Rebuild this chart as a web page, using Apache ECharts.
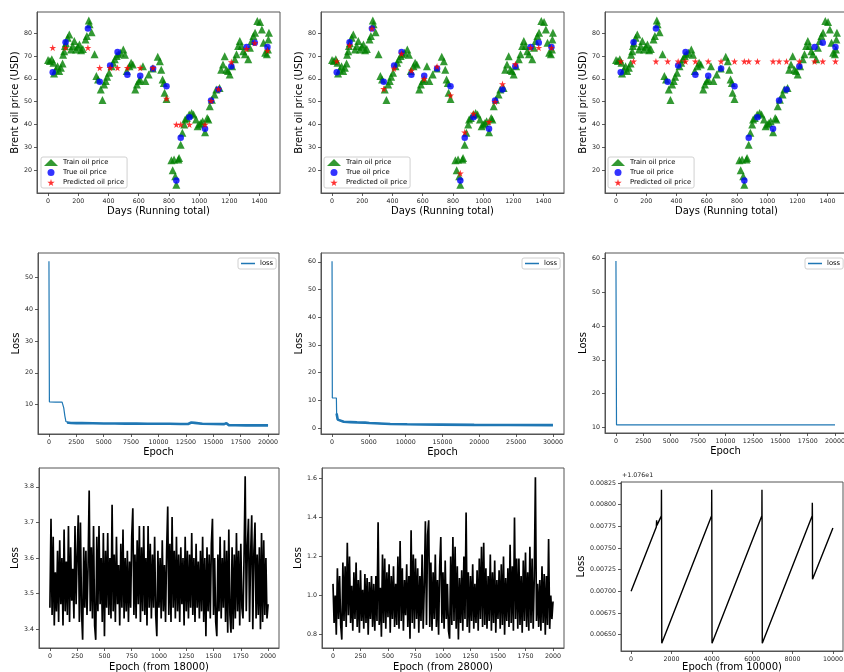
<!DOCTYPE html>
<html><head><meta charset="utf-8">
<script src="https://cdn.jsdelivr.net/npm/echarts@6/dist/echarts.min.js"></script>
<style>html,body{margin:0;padding:0;background:#fff}#c{width:844px;height:672px}</style>
</head><body><div id="c"></div>
<script>
// ---------- data ----------
const trainDays = [0,12,25,36,40,51,63,74,85,96,100,107,112,118,130,141,152,163,174,185,197,208,219,230,248,257,270,275,288,308,320,331,349,360,371,382,391,404,420,431,442,454,465,480,498,509,521,539,550,561,577,588,601,610,628,644,666,693,726,740,749,758,766,771,784,816,825,834,842,849,863,867,878,889,901,907,918,934,950,963,979,990,1001,1012,1023,1039,1053,1061,1070,1084,1102,1113,1135,1146,1158,1169,1180,1191,1202,1218,1236,1247,1258,1269,1280,1292,1303,1325,1336,1347,1359,1370,1385,1403,1415,1426,1437,1448,1455,1458,1462];
const trainPrice = [68.2,67.8,68.6,67.0,62.3,64.0,65.5,63.4,64.8,66.7,70.5,72.0,74.3,75.5,78.0,79.4,72.8,74.3,76.5,72.8,74.0,75.0,72.5,73.0,77.2,78.7,85.5,83.8,80.4,70.7,61.2,59.7,55.3,50.7,57.5,59.0,60.9,62.6,65.5,67.0,68.5,70.0,70.7,71.4,72.8,70.5,63.4,65.5,67.0,66.3,55.3,57.5,59.0,59.7,65.5,59.0,61.9,64.5,69.6,67.7,64.0,59.7,58.2,53.9,51.2,24.4,20.0,24.7,17.4,13.7,24.7,25.4,31.2,36.4,40.0,42.2,42.9,44.4,45.1,44.4,42.2,39.3,40.0,40.7,41.5,36.6,42.9,42.2,48.0,50.9,53.1,55.3,56.0,64.0,66.3,69.9,64.0,63.4,61.9,65.5,68.5,70.7,74.3,76.5,74.3,72.1,70.7,68.5,73.6,76.5,78.7,80.1,85.3,84.8,81.6,75.8,71.4,70.7,72.8,77.2,80.1];
const testDays = [31,116,264,342,411,460,525,610,695,784,849,878,936,1039,1079,1128,1213,1314,1368,1452];
const truePrice = [62.9,76.0,82.0,58.7,65.8,71.7,61.8,61.3,64.5,56.8,15.6,34.2,43.2,38.2,50.5,55.3,65.5,73.9,75.8,73.9];
const predPriceA = [73.6,73.6,73.6,64.8,64.8,64.8,64.8,64.8,64.8,51.4,40.0,40.0,40.0,40.0,50.4,55.5,67.3,73.1,75.6,72.4];
const predPriceB = [67.7,74.6,82.0,55.6,64.5,71.0,63.6,60.0,65.4,52.8,18.7,36.6,44.8,41.2,50.0,57.7,66.4,73.6,73.6,73.6];
const predPriceC = [67.6,67.6,67.6,67.6,67.6,67.6,67.6,67.6,67.6,67.6,67.6,67.6,67.6,67.6,67.6,67.6,67.6,67.6,67.6,67.6];

const lossEpochA = [0,40,80,600,1200,1280,1350,1450,1550,1650,1800,2000,2500,3000,4000,5000,6000,7000,8000,9000,10000,11000,12000,12700,12800,13000,13300,13400,14000,15000,16000,16200,16300,16400,16500,17000,18000,19000,20000];
const lossA = [55,10.9,10.8,10.8,10.8,10.7,9.0,6.5,4.7,4.4,4.3,4.25,4.2,4.2,4.15,4.1,4.1,4.05,4.05,4.0,4.0,4.0,3.95,3.95,4.35,4.4,4.3,4.0,4.0,3.95,3.9,4.2,4.0,3.6,3.55,3.55,3.5,3.5,3.5];
const lossEpochB = [0,40,80,300,590,620,770,1040,1590,2500,3400,4500,5070,5200,7900,10200,14700,19300,23800,30000];
const lossB = [60.2,10.8,10.8,10.8,10.8,5.2,3.0,2.4,2.2,2.1,2.0,1.9,1.8,1.5,1.4,1.3,1.2,1.1,1.05,1.0];
const lossEpochC = [0,50,100,5000,10000,15000,20000];
const lossC = [59.2,10.76,10.76,10.76,10.76,10.76,10.76];

const lossTailA = [3.46,3.71,3.44,3.66,3.41,3.56,3.45,3.62,3.42,3.65,3.47,3.60,3.41,3.68,3.45,3.59,3.44,3.69,3.42,3.63,3.48,3.57,3.43,3.69,3.47,3.61,3.72,3.42,3.70,3.45,3.37,3.63,3.46,3.62,3.44,3.58,3.79,3.45,3.63,3.43,3.69,3.41,3.37,3.66,3.45,3.69,3.47,3.60,3.42,3.67,3.38,3.62,3.46,3.67,3.44,3.60,3.43,3.75,3.45,3.61,3.42,3.66,3.47,3.58,3.41,3.64,3.46,3.68,3.43,3.60,3.45,3.62,3.42,3.59,3.46,3.66,3.74,3.44,3.61,3.43,3.65,3.47,3.69,3.42,3.63,3.45,3.69,3.44,3.60,3.41,3.69,3.46,3.64,3.43,3.61,3.46,3.66,3.44,3.38,3.62,3.46,3.60,3.43,3.65,3.45,3.58,3.42,3.62,3.745,3.44,3.64,3.42,3.715,3.46,3.62,3.43,3.66,3.45,3.61,3.42,3.63,3.47,3.60,3.41,3.66,3.45,3.62,3.43,3.61,3.46,3.67,3.44,3.60,3.42,3.64,3.46,3.59,3.43,3.62,3.45,3.66,3.42,3.60,3.38,3.63,3.45,3.61,3.43,3.64,3.71,3.44,3.60,3.42,3.38,3.61,3.45,3.66,3.43,3.60,3.46,3.65,3.42,3.62,3.39,3.68,3.44,3.39,3.63,3.40,3.61,3.43,3.67,3.45,3.62,3.41,3.64,3.46,3.43,3.61,3.83,3.45,3.63,3.71,3.42,3.61,3.72,3.40,3.62,3.70,3.43,3.61,3.44,3.63,3.40,3.67,3.42,3.65,3.44,3.60,3.43,3.47];
const lossTailB = [1.06,0.86,1.00,0.80,1.14,0.88,1.10,0.85,0.775,1.17,0.87,1.15,0.84,1.27,0.90,1.20,0.86,1.05,0.82,1.12,0.88,1.17,0.84,1.08,0.81,1.13,0.87,1.03,0.83,1.11,0.86,1.09,0.80,1.07,0.88,1.10,0.84,1.06,0.82,1.10,0.87,1.375,0.85,1.04,0.79,1.21,0.86,1.19,0.83,1.12,0.89,1.16,0.81,1.10,0.88,1.15,0.84,1.06,0.85,1.20,0.83,1.28,0.87,1.14,0.82,1.08,0.90,1.16,0.84,1.10,0.78,1.335,0.86,1.21,0.83,1.19,0.88,1.14,0.81,1.10,0.87,1.21,0.83,1.05,1.38,0.85,1.31,1.385,0.84,1.17,0.82,1.12,0.88,1.21,0.84,1.08,0.80,1.15,1.30,0.86,1.12,0.83,1.18,0.88,1.06,0.82,0.78,1.20,0.85,1.30,0.87,1.25,0.83,1.15,0.775,1.09,0.86,1.13,0.82,1.20,0.88,1.425,0.84,1.12,0.81,1.10,0.87,1.16,0.83,1.06,0.86,1.13,0.82,1.19,0.88,1.25,0.84,1.27,0.85,1.14,0.83,1.10,0.87,1.21,0.82,1.12,0.86,1.18,0.81,1.08,0.88,1.13,0.83,1.16,0.85,1.20,0.80,1.09,0.87,1.14,0.84,1.26,0.86,1.15,0.82,1.40,0.88,1.19,0.83,1.19,0.85,1.10,0.81,1.18,0.87,1.22,0.84,1.12,0.82,1.25,0.86,1.19,0.83,1.10,1.605,0.87,1.06,0.84,1.08,0.82,1.15,0.86,1.11,0.80,1.10,0.85,1.29,0.83,1.00,0.88,0.97];
const tailStep = 10;
const lossEpochTailC = [0,1250,1265,1280,1500,1505,1510,1520,3990,3995,4000,4010,6480,6485,6490,6500,8975,8980,8985,8990,10000];
const lossTailC = [0.00700,0.00774,0.00782,0.00776,0.00787,0.00817,0.00787,0.00640,0.00787,0.00817,0.00787,0.00640,0.00787,0.00817,0.00787,0.00640,0.00787,0.00802,0.00787,0.00714,0.00773];
const tailOffsetText = '+1.076e1';

const dayTicks = [0,200,400,600,800,1000,1200,1400];
const priceTicks = [20,30,40,50,60,70,80];
const epochTicks20k = [0,2500,5000,7500,10000,12500,15000,17500,20000];
const epochTicks30k = [0,5000,10000,15000,20000,25000,30000];
const lossTicksA = [10,20,30,40,50];
const lossTicksB = [0,10,20,30,40,50,60];
const lossTicksC = [10,20,30,40,50,60];
const epochTicks2k = [0,250,500,750,1000,1250,1500,1750,2000];
const epochTicks10k = [0,2000,4000,6000,8000,10000];
const tailTicksA = [3.4,3.5,3.6,3.7,3.8];
const tailTicksB = [0.8,1.0,1.2,1.4,1.6];
const tailTicksC = [0.0065,0.00675,0.007,0.00725,0.0075,0.00775,0.008,0.00825];

// ---------- layout ----------
const F = 'DejaVu Sans';
const G = [
  {l:37,t:12,w:243,h:181},{l:321,t:12,w:243,h:181},{l:605,t:12,w:243,h:181},
  {l:38,t:253,w:241,h:181},{l:321,t:253,w:243,h:181},{l:605,t:253,w:241,h:180},
  {l:39,t:468,w:240,h:180},{l:322,t:468,w:242,h:180},{l:621,t:482,w:222,h:169}
];
const grids = G.map(g => ({left:g.l, top:g.t, width:g.w, height:g.h, show:true, borderColor:'#555', borderWidth:1, backgroundColor:'transparent', containLabel:false, outerBoundsMode:'none'}));

function ax(dim, gi, min, max, ticks, name, gap, fmt) {
  return {
    type:'value', gridIndex:gi, min:min, max:max,
    name:name, nameLocation:'middle', nameGap:gap,
    nameTextStyle:{fontSize:10, fontFamily:F, color:'#000'},
    axisLine:{show:true, onZero:false, lineStyle:{color:'#555', width:1}},
    axisTick:{show:true, length:3, inside:false, lineStyle:{color:'#333', width:0.8}, customValues:ticks},
    axisLabel:{show:true, fontSize:6.3, fontFamily:F, color:'#222', margin:5, customValues:ticks, formatter:fmt || (v => String(v))},
    splitLine:{show:false}, splitArea:{show:false}
  };
}
const xAxes = [], yAxes = [];
for (let i=0;i<3;i++){
  xAxes.push(ax('x', i, -73, 1535, dayTicks, 'Days (Running total)', 13));
  yAxes.push(ax('y', i, 10.1, 89.2, priceTicks, 'Brent oil price (USD)', 15));
}
xAxes.push(ax('x',3,-1000,21000,epochTicks20k,'Epoch',13));
yAxes.push(ax('y',3,0.8,57.6,lossTicksA,'Loss',16));
xAxes.push(ax('x',4,-1500,31500,epochTicks30k,'Epoch',13));
yAxes.push(ax('y',4,-2.2,63.2,lossTicksB,'Loss',15));
xAxes.push(ax('x',5,-1000,21000,epochTicks20k,'Epoch',13));
yAxes.push(ax('y',5,8.34,61.6,lossTicksC,'Loss',16));
xAxes.push(ax('x',6,-100,2100,epochTicks2k,'Epoch (from 18000)',14));
yAxes.push(ax('y',6,3.347,3.853,tailTicksA,'Loss',19, v=>v.toFixed(1)));
xAxes.push(ax('x',7,-100,2100,epochTicks2k,'Epoch (from 28000)',14));
yAxes.push(ax('y',7,0.732,1.653,tailTicksB,'Loss',17, v=>v.toFixed(1)));
xAxes.push(ax('x',8,-500,10500,epochTicks10k,'Epoch (from 10000)',11));
yAxes.push(ax('y',8,0.006312,0.00826,tailTicksC,'Loss',33, v=>v.toFixed(5)));

const STAR = 'path://M50,0 L61,35 L98,35 L68,57 L79,91 L50,70 L21,91 L32,57 L2,35 L39,35 Z';
const zip = (a,b) => a.map((x,i)=>[x,b[i]]);
const series = [];
const preds = [predPriceA, predPriceB, predPriceC];
for (let i=0;i<3;i++){
  series.push({name:'Train oil price', type:'scatter', xAxisIndex:i, yAxisIndex:i, symbol:'triangle', symbolSize:8, itemStyle:{color:'#008000'}, data:zip(trainDays,trainPrice), silent:true});
  series.push({name:'True oil price', type:'scatter', xAxisIndex:i, yAxisIndex:i, symbol:'circle', symbolSize:6.5, itemStyle:{color:'#0000ff'}, data:zip(testDays,truePrice), silent:true});
  series.push({name:'Predicted oil price', type:'scatter', xAxisIndex:i, yAxisIndex:i, symbol:STAR, symbolSize:7, itemStyle:{color:'#ff0000'}, data:zip(testDays,preds[i]), silent:true});
}
const lossSets = [[lossEpochA,lossA,1600],[lossEpochB,lossB,620],[lossEpochC,lossC,null]];
lossSets.forEach((s,k)=>{
  const gi = 3+k;
  series.push({name:'loss', type:'line', xAxisIndex:gi, yAxisIndex:gi, showSymbol:false, symbol:'none', lineStyle:{color:'#1f77b4', width:1.2}, itemStyle:{color:'#1f77b4'}, data:zip(s[0],s[1]), silent:true});
  if (s[2]!==null){
    const band = zip(s[0],s[1]).filter(p=>p[0]>=s[2]);
    series.push({name:'band'+k, type:'line', xAxisIndex:gi, yAxisIndex:gi, showSymbol:false, symbol:'none', lineStyle:{color:'#1f77b4', width:2.6}, data:band, silent:true});
  }
});
series.push({name:'tailA', type:'line', xAxisIndex:6, yAxisIndex:6, showSymbol:false, symbol:'none', lineStyle:{color:'#000', width:1.7}, data:lossTailA.map((v,i)=>[i*tailStep,v]), silent:true});
series.push({name:'tailB', type:'line', xAxisIndex:7, yAxisIndex:7, showSymbol:false, symbol:'none', lineStyle:{color:'#000', width:1.7}, data:lossTailB.map((v,i)=>[i*tailStep,v]), silent:true});
series.push({name:'tailC', type:'line', xAxisIndex:8, yAxisIndex:8, showSymbol:false, symbol:'none', lineStyle:{color:'#000', width:1.4}, data:zip(lossEpochTailC,lossTailC), silent:true});

const legBase = {orient:'vertical', backgroundColor:'rgba(255,255,255,0.85)', borderColor:'#d0d0d0', borderWidth:1, borderRadius:2, textStyle:{fontSize:6.8, fontFamily:F, color:'#000'}, selectedMode:false};
const legends = [];
[41,324,608].forEach(l=>legends.push(Object.assign({}, legBase, {left:l, top:157, padding:[2,3,2,3], itemGap:3, itemWidth:14, itemHeight:7, data:['Train oil price','True oil price','Predicted oil price']})));
[238,522,805].forEach(l=>legends.push(Object.assign({}, legBase, {left:l, top:258, padding:[2,3,2,3], itemWidth:14, itemHeight:1.5, data:[{name:'loss', icon:'rect'}]})));

const chart = echarts.init(document.getElementById('c'), null, {renderer:'canvas'});
chart.setOption({
  animation:false, backgroundColor:'#fff',
  grid:grids, xAxis:xAxes, yAxis:yAxes, series:series, legend:legends, tooltip:{show:false},
  graphic:[{type:'text', left:622, top:472, style:{text:tailOffsetText, fontSize:6.3, fontFamily:F, fill:'#222'}}]
});
</script></body></html>
